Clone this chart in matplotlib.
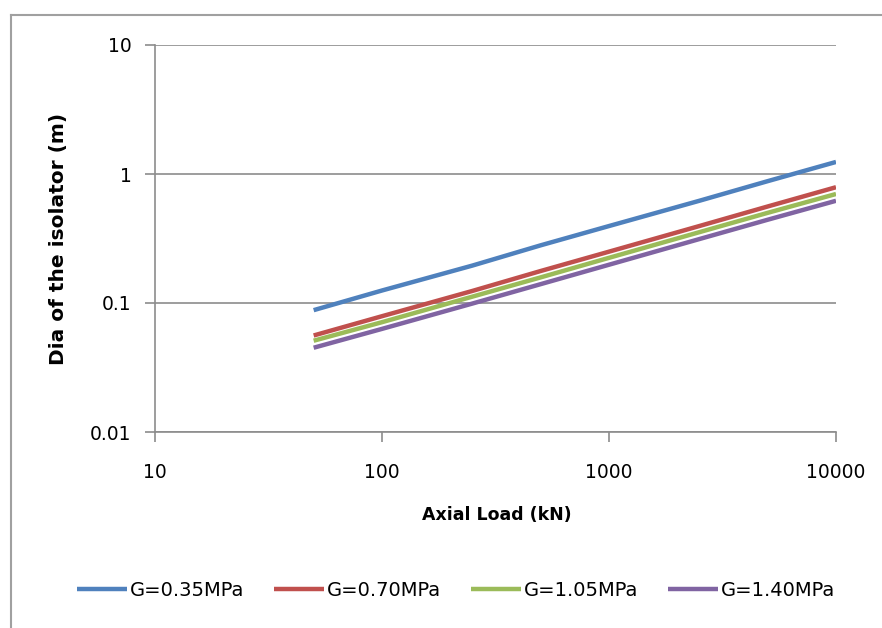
import numpy as np
from matplotlib import pyplot as plt
from matplotlib.lines import Line2D

## Axial load values (kN) and isolator diameters (m)
load = [50, 100, 250, 500, 1000, 2500, 5000, 10000]
dia_035 = [0.088, 0.125, 0.195, 0.28, 0.395, 0.62, 0.88, 1.24]
dia_070 = [0.056, 0.079, 0.124, 0.177, 0.25, 0.395, 0.56, 0.79]
dia_105 = [0.051, 0.071, 0.112, 0.158, 0.224, 0.354, 0.50, 0.70]
dia_140 = [0.045, 0.063, 0.099, 0.14, 0.198, 0.313, 0.442, 0.62]

series = [(dia_035, 'G=0.35MPa', '#4F81BD'),
          (dia_070, 'G=0.70MPa', '#C0504D'),
          (dia_105, 'G=1.05MPa', '#9BBB59'),
          (dia_140, 'G=1.40MPa', '#8064A2')]

xticks = [10, 100, 1000, 10000]
yticks = [0.01, 0.1, 1, 10]

fig = plt.figure(figsize=(8.82, 6.28), dpi=100)
ax = fig.add_axes([155/882, 1-432/628, (836-155)/882, (432-45)/628])

for vals, name, col in series:
    ax.plot(load, vals, color=col, linewidth=3.2, label=name, solid_capstyle='butt')

ax.set_xscale('log')
ax.set_yscale('log')
ax.set_xlim(10, 10000)
ax.set_ylim(0.01, 10)
ax.set_xticks(xticks)
ax.set_xticklabels([str(t) for t in xticks])
ax.set_yticks(yticks)
ax.set_yticklabels(['0.01', '0.1', '1', '10'])
ax.minorticks_off()
ax.yaxis.grid(True, color='#8c8c8c', linewidth=1.2)
ax.set_axisbelow(True)

for s in ['top', 'right']:
    ax.spines[s].set_visible(False)
for s in ['left', 'bottom']:
    ax.spines[s].set_color('#8c8c8c')
    ax.spines[s].set_linewidth(1.2)
ax.tick_params(axis='both', colors='#8c8c8c', length=7, width=1.2, labelsize=13.5,
               labelcolor='black')
ax.tick_params(axis='y', pad=10)
ax.tick_params(axis='x', pad=15)

ax.set_xlabel('Axial Load (kN)', fontsize=12.5, fontweight='bold')
ax.xaxis.set_label_coords(0.502, -0.2145)
ax.xaxis.label.set_va('center')
ax.set_ylabel('Dia of the isolator (m)', fontsize=14.5, fontweight='bold')
ax.yaxis.set_label_coords(-0.1424, 0.5)
ax.yaxis.label.set_va('center')

ax.legend(loc='center', bbox_to_anchor=(0.517, 1-590/628), bbox_transform=fig.transFigure,
          ncol=4, frameon=False, fontsize=14, handlelength=2.6, handletextpad=0.15,
          columnspacing=1.5, borderaxespad=0)

## outer chart frame (top and left edges only visible)
fig.add_artist(Line2D([11/882, 1], [1-15/628, 1-15/628], color='#a0a0a0', linewidth=1.5,
                      transform=fig.transFigure))
fig.add_artist(Line2D([11/882, 11/882], [0, 1-15/628], color='#a0a0a0', linewidth=1.5,
                      transform=fig.transFigure))

fig.savefig('out.png', dpi=100)
